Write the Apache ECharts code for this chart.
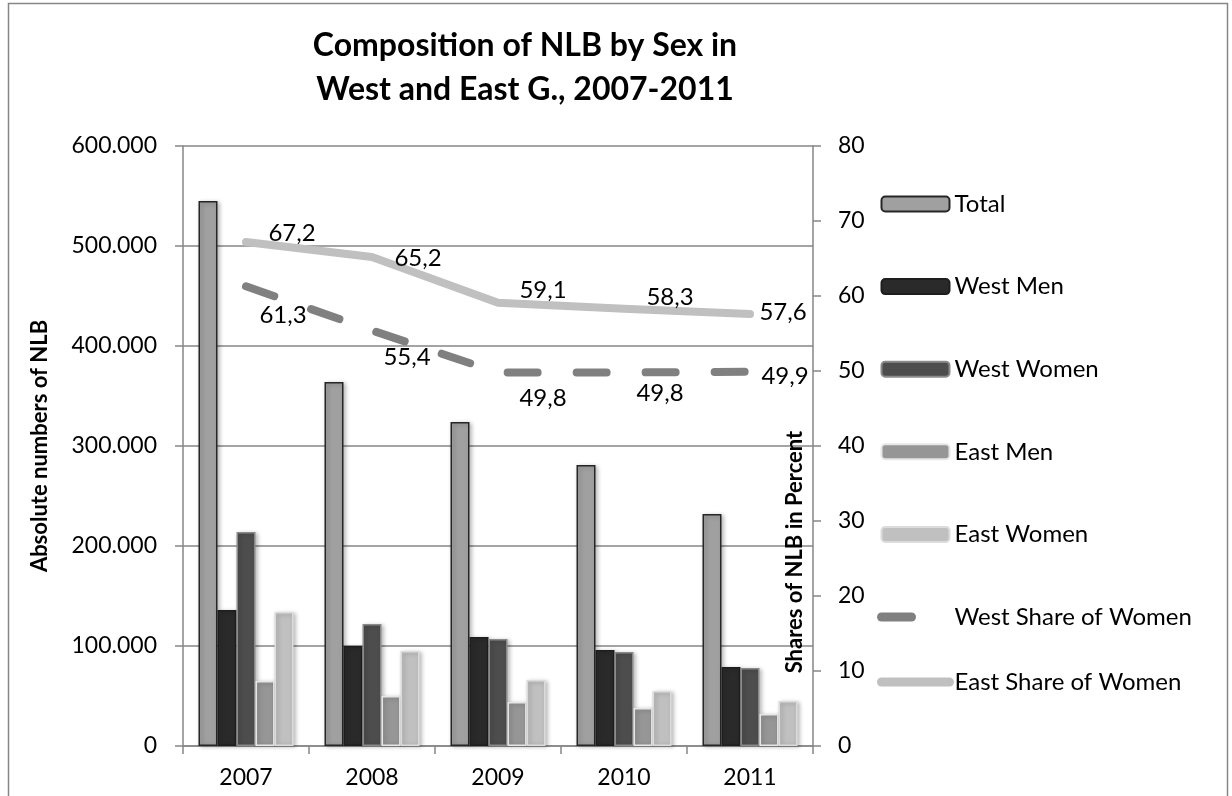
<!DOCTYPE html>
<html>
<head>
<meta charset="utf-8">
<script src="https://cdn.jsdelivr.net/npm/echarts@6/dist/echarts.min.js"></script>
<style>
  html, body { margin: 0; padding: 0; background: #fff; }
  #chart { width: 1232px; height: 796px; }
</style>
</head>
<body>
<div id="chart"></div>
<script>
// data
const years = ['2007', '2008', '2009', '2010', '2011'];
const total = [545000, 364000, 324000, 281000, 232000];
const westMen = [136000, 100000, 109000, 96000, 79000];
const westWomen = [214000, 122000, 107000, 94000, 78000];
const eastMen = [65000, 50000, 44000, 38000, 32000];
const eastWomen = [134000, 95000, 66000, 55000, 45000];
const westShare = [61.3, 55.4, 49.8, 49.8, 49.9];
const eastShare = [67.2, 65.2, 59.1, 58.3, 57.6];

const FONT = 'Lato, "Open Sans", sans-serif';
const AXIS_GREY = '#868686';

function thousands(v) {
    if (v === 0) return '0';
    return (v / 1000) + '.000';
}

function comma(v) {
    return v.toFixed(1).replace('.', ',');
}

function barSeries(name, data, color, border) {
    return {
        name: name,
        type: 'bar',
        yAxisIndex: 0,
        barWidth: 19,
        barGap: '0%',
        data: data,
        itemStyle: {
            color: color,
            borderColor: border,
            borderWidth: 1.5,
            shadowBlur: 4,
            shadowOffsetX: 2,
            shadowOffsetY: 1,
            shadowColor: 'rgba(0,0,0,0.25)'
        }
    };
}

// labels in the original were nudged by hand, so each point gets its own shift
function lineSeries(name, values, color, dashed, nudges) {
    return {
        name: name,
        type: 'line',
        yAxisIndex: 1,
        z: 5,
        symbol: 'circle',
        symbolSize: 1,
        showSymbol: true,
        itemStyle: { color: 'rgba(0,0,0,0)', borderWidth: 0 },
        lineStyle: {
            color: color,
            width: 8,
            type: dashed ? [30, 39] : 'solid',
            cap: 'round',
            join: 'round'
        },
        label: {
            show: true,
            position: 'inside',
            color: '#000',
            fontFamily: FONT,
            fontSize: 24,
            formatter: function (p) { return comma(p.value); }
        },
        data: values.map(function (v, i) {
            return { value: v, label: { offset: nudges[i] } };
        })
    };
}

let myChart = echarts.init(document.getElementById('chart'));

let legendText = {
    fontFamily: FONT,
    fontSize: 24,
    color: '#000',
    lineHeight: 24
};

let option = {
    backgroundColor: '#fff',
    animation: false,
    title: {
        text: 'Composition of NLB by Sex in\nWest and East G., 2007-2011',
        left: 520,
        top: 19,
        textAlign: 'center',
        textStyle: {
            fontFamily: FONT,
            fontSize: 32,
            fontWeight: 'bold',
            lineHeight: 44,
            color: '#000'
        }
    },
    graphic: [
        {
            type: 'rect',
            shape: { x: 8.5, y: 3.5, width: 1219, height: 800 },
            style: { fill: 'none', stroke: AXIS_GREY, lineWidth: 1.5 },
            silent: true
        },
        {
            type: 'text',
            x: 795,
            y: 552,
            rotation: Math.PI / 2,
            style: {
                text: 'Shares of NLB in Percent',
                fontFamily: FONT,
                fontSize: 22,
                fontWeight: 'bold',
                fill: '#000',
                align: 'center',
                verticalAlign: 'middle'
            },
            z: 10
        }
    ],
    legend: [
        {
            orient: 'vertical',
            left: 877,
            top: 192,
            padding: 0,
            itemWidth: 68,
            itemHeight: 15,
            itemGap: 58.6,
            lineStyle: { width: 9, cap: 'round' },
            textStyle: legendText,
            data: ['Total', 'West Men', 'West Women', 'East Men', 'East Women',
                   'West Share of Women']
        },
        {
            orient: 'vertical',
            left: 877,
            top: 670,
            padding: 0,
            itemWidth: 68,
            itemHeight: 15,
            lineStyle: { width: 9, cap: 'round' },
            textStyle: legendText,
            data: ['East Share of Women']
        }
    ],
    grid: {
        left: 183,
        right: 419,
        top: 146,
        bottom: 50
    },
    xAxis: {
        type: 'category',
        data: years,
        axisLine: { lineStyle: { color: AXIS_GREY, width: 1.5 } },
        axisTick: { show: true, alignWithLabel: false, length: 8, lineStyle: { color: AXIS_GREY, width: 1.5 } },
        axisLabel: { fontFamily: FONT, fontSize: 23, color: '#000', margin: 20 }
    },
    yAxis: [
        {
            type: 'value',
            min: 0,
            max: 600000,
            interval: 100000,
            name: 'Absolute numbers of NLB',
            nameLocation: 'middle',
            nameGap: 132,
            nameRotate: 90,
            nameTextStyle: { fontFamily: FONT, fontSize: 22, fontWeight: 'bold', color: '#000' },
            axisLine: { show: true, lineStyle: { color: AXIS_GREY, width: 1.5 } },
            axisTick: { show: true, length: 8, lineStyle: { color: AXIS_GREY, width: 1.5 } },
            axisLabel: { fontFamily: FONT, fontSize: 23, color: '#000', margin: 26, formatter: thousands },
            splitLine: { show: true, lineStyle: { color: AXIS_GREY, width: 1.5 } }
        },
        {
            type: 'value',
            position: 'right',
            min: 0,
            max: 80,
            interval: 10,
            axisLine: { show: true, lineStyle: { color: AXIS_GREY, width: 1.5 } },
            axisTick: { show: true, length: 8, lineStyle: { color: AXIS_GREY, width: 1.5 } },
            axisLabel: { fontFamily: FONT, fontSize: 23, color: '#000', margin: 25 },
            splitLine: { show: false }
        }
    ],
    series: [
        barSeries('Total', total, '#a0a0a0', '#262626'),
        barSeries('West Men', westMen, '#2a2a2a', '#1e1e1e'),
        barSeries('West Women', westWomen, '#4d4d4d', '#8a8a8a'),
        barSeries('East Men', eastMen, '#969696', '#e6e6e6'),
        barSeries('East Women', eastWomen, '#c0c0c0', '#dcdcdc'),
        lineSeries('West Share of Women', westShare, '#808080', true,
            [[37, 29], [35, 27], [45, 26], [36, 21], [35, 5]]),
        lineSeries('East Share of Women', eastShare, '#c0c0c0', false,
            [[46, -9], [46, 1], [45, -12], [46, -11], [33, -2]])
    ]
};

myChart.setOption(option);
</script>
</body>
</html>
